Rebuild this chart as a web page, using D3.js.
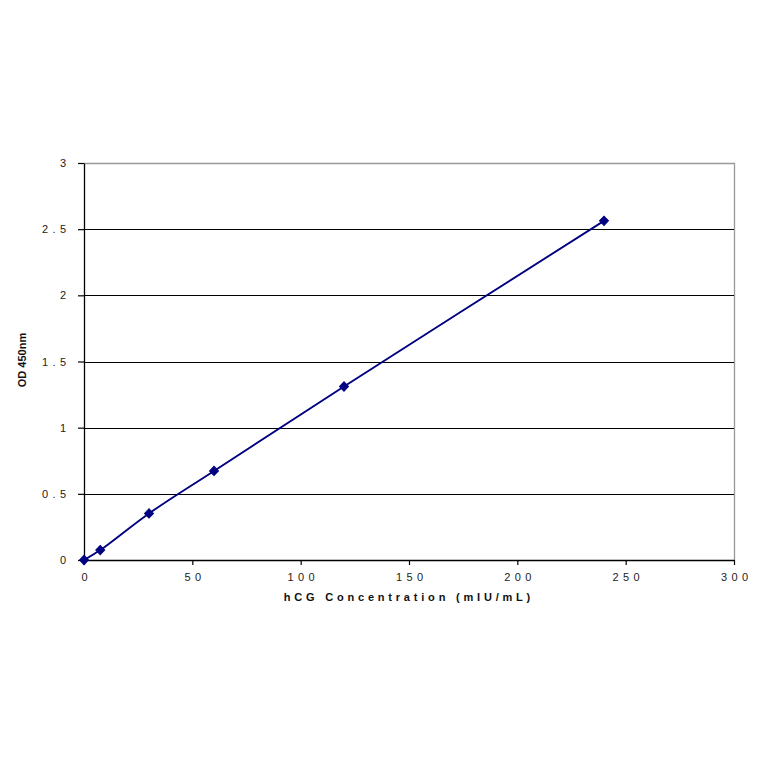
<!DOCTYPE html>
<html>
<head>
<meta charset="utf-8">
<script src="https://cdn.jsdelivr.net/npm/d3@7"></script>
<style>
  body { margin: 0; background: #fff; }
  svg { display: block; }
</style>
</head>
<body>
<svg id="chart" width="764" height="764"></svg>
<script>
// standard curve readings
const concentrations = [0, 7.5, 30, 60, 120, 240];
const odValues = [0, 0.075, 0.352, 0.673, 1.311, 2.563];
const xTicks = [0, 50, 100, 150, 200, 250, 300];
const yTicks = [0, 0.5, 1, 1.5, 2, 2.5, 3];

const svg = d3.select('#chart');
const width = +svg.attr('width');
const height = +svg.attr('height');
const margin = { top: 163, right: 30, bottom: 204, left: 84 };

const x = d3.scaleLinear().domain([0, 300]).range([margin.left, width - margin.right]);
const y = d3.scaleLinear().domain([0, 3]).range([height - margin.bottom, margin.top]);

const points = concentrations.map((c, i) => ({ c, od: odValues[i] }));

// plot area border (top + right are grey)
svg.append('path')
  .attr('d', `M${x(0)},${y(3) + 0.5}H${x(300) + 0.5}V${y(0)}`)
  .attr('fill', 'none')
  .attr('stroke', '#999')
  .attr('stroke-width', 1.3);

// gridlines
svg.append('g')
  .selectAll('line')
  .data(yTicks.filter(t => t > 0 && t < 3))
  .enter()
  .append('line')
  .attr('x1', x(0))
  .attr('x2', x(300))
  .attr('y1', d => Math.round(y(d)) + 0.5)
  .attr('y2', d => Math.round(y(d)) + 0.5)
  .attr('stroke', '#000')
  .attr('stroke-width', 1);

// x axis
const xAxis = svg.append('g')
  .attr('transform', `translate(0,${y(0)})`)
  .call(d3.axisBottom(x).tickValues(xTicks).tickSize(5).tickSizeOuter(0).tickPadding(8));

// y axis
const yAxis = svg.append('g')
  .attr('transform', `translate(${x(0)},0)`)
  .call(d3.axisLeft(y).tickValues(yTicks).tickSize(6).tickSizeOuter(0).tickPadding(12)
    .tickFormat(d3.format('')));

[xAxis, yAxis].forEach(g => {
  g.select('.domain').attr('stroke', '#000').attr('stroke-width', 1.3);
  g.selectAll('.tick line').attr('stroke', '#000').attr('stroke-width', 1.2);
  g.selectAll('.tick text')
    .attr('fill', '#222')
    .style('font-family', '"Liberation Sans", Arial, sans-serif')
    .style('font-size', '11px')
    .style('letter-spacing', '4.4px');
});
xAxis.selectAll('.tick text').attr('dx', '2.2px');
yAxis.selectAll('.tick text').attr('dx', '4.4px');

// smoothed line
const line = d3.line()
  .x(d => x(d.c))
  .y(d => y(d.od))
  .curve(d3.curveCatmullRom);

svg.append('path')
  .datum(points)
  .attr('fill', 'none')
  .attr('stroke', '#000080')
  .attr('stroke-width', 1.9)
  .attr('d', line);

// diamond markers
svg.append('g')
  .selectAll('path')
  .data(points)
  .enter()
  .append('path')
  .attr('d', d3.symbol(d3.symbolDiamond, 36))
  .attr('transform', d => `translate(${x(d.c)},${y(d.od)}) scale(1.4,0.85)`)
  .attr('fill', '#000080')
  .attr('stroke', '#000080')
  .attr('stroke-width', 0.8);

// axis titles
svg.append('text')
  .attr('x', 407 + 1.9)
  .attr('y', 601)
  .attr('text-anchor', 'middle')
  .style('font-family', '"Liberation Sans", Arial, sans-serif')
  .style('font-size', '11px')
  .style('font-weight', 'bold')
  .style('letter-spacing', '3.8px')
  .attr('fill', '#111')
  .text('hCG Concentration (mIU/mL)');

svg.append('text')
  .attr('transform', 'translate(26,360) rotate(-90)')
  .attr('text-anchor', 'middle')
  .style('font-family', '"Liberation Sans", Arial, sans-serif')
  .style('font-size', '11px')
  .style('font-weight', 'bold')
  .attr('fill', '#111')
  .text('OD 450nm');
</script>
</body>
</html>
